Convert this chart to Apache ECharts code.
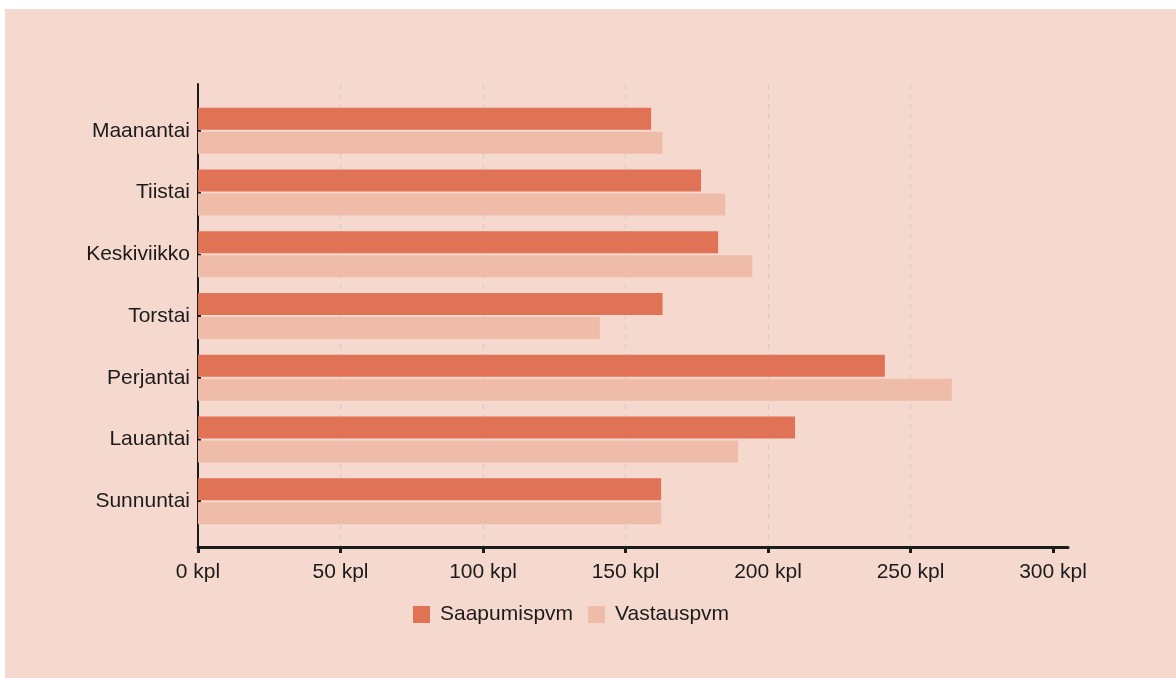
<!DOCTYPE html>
<html>
<head>
<meta charset="utf-8">
<script src="https://cdn.jsdelivr.net/npm/echarts@6/dist/echarts.min.js"></script>
<style>
    html, body { margin: 0; padding: 0; background: #ffffff; }
    #chart { position: absolute; left: 5px; top: 9px; width: 1171px; height: 669px; background: #f6d9ce; }
</style>
</head>
<body>
<div id="chart"></div>
<script>
var days = ['Maanantai', 'Tiistai', 'Keskiviikko', 'Torstai', 'Perjantai', 'Lauantai', 'Sunnuntai'];
var saapumis = [159, 176.5, 182.5, 163, 241, 209.5, 162.5];
var vastaus = [163, 185, 194.5, 141, 264.5, 189.5, 162.5];
var xTicks = [0, 50, 100, 150, 200, 250, 300];
var seriesNames = ['Saapumispvm', 'Vastauspvm'];

var dark = '#1b1b1b';
var dom = document.getElementById('chart');
var myChart = echarts.init(dom);

var option = {
    animation: false,
    textStyle: { fontFamily: 'Liberation Sans, Arial, sans-serif' },
    color: ['#e07256', '#efbca9'],
    legend: {
        data: seriesNames,
        left: 403,
        top: 590,
        itemWidth: 17,
        itemHeight: 17,
        itemGap: 15,
        icon: 'rect',
        textStyle: { fontSize: 21, color: dark, padding: [2, 0, 0, 5] }
    },
    grid: [
        // outer frame: axis lines, ticks, labels, grid lines
        { left: 193, top: 75, width: 870, height: 463 },
        // inner area where the bars sit
        { left: 193, top: 91, width: 855, height: 432 }
    ],
    xAxis: [{
        gridIndex: 0,
        type: 'value',
        min: 0,
        max: 870 / 2.85,
        interval: 50,
        axisLine: { show: true, lineStyle: { color: dark, width: 3 } },
        axisTick: { show: true, length: 6, customValues: xTicks, lineStyle: { color: dark, width: 3 } },
        axisLabel: {
            customValues: xTicks,
            formatter: '{value} kpl',
            fontSize: 21,
            color: dark,
            margin: 15
        },
        splitLine: {
            show: true,
            showMaxLine: false,
            lineStyle: { color: '#d3cbc8', type: [5, 5], width: 1 }
        }
    }, {
        gridIndex: 1,
        type: 'value',
        min: 0,
        max: 300,
        show: false
    }],
    yAxis: [{
        gridIndex: 0,
        type: 'value',
        min: 0,
        max: 1,
        axisLine: { show: true, lineStyle: { color: dark, width: 2 } },
        axisTick: { show: false },
        axisLabel: { show: false },
        splitLine: { show: false }
    }, {
        gridIndex: 1,
        type: 'category',
        data: days,
        inverse: true,
        axisLine: { show: false },
        axisTick: { show: true, inside: true, alignWithLabel: true, length: 3, lineStyle: { color: dark, width: 2 } },
        axisLabel: { fontSize: 21, color: dark, margin: 8, padding: [3, 0, 0, 0] },
        splitLine: { show: false }
    }],
    series: [{
        name: seriesNames[0],
        type: 'bar',
        xAxisIndex: 1,
        yAxisIndex: 1,
        data: saapumis,
        barWidth: 22,
        barGap: '9%'
    }, {
        name: seriesNames[1],
        type: 'bar',
        xAxisIndex: 1,
        yAxisIndex: 1,
        data: vastaus,
        barWidth: 22,
        barGap: '9%'
    }]
};

myChart.setOption(option);
</script>
</body>
</html>
